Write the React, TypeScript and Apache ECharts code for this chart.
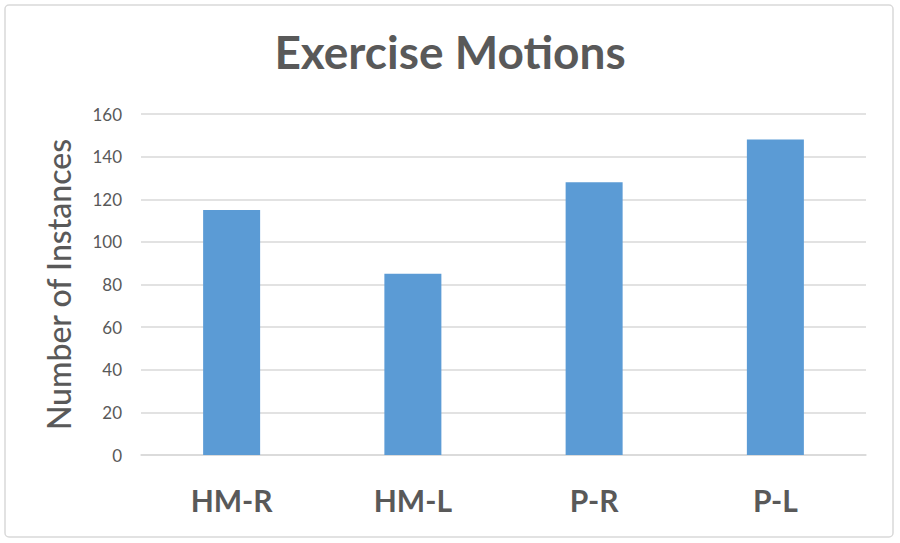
import React, { useEffect, useRef } from "react";
import * as echarts from "echarts";

const categories = ["HM-R", "HM-L", "P-R", "P-L"];
const instances = [115, 85, 128, 148];
const yTicks = { min: 0, max: 160, interval: 20 };

const TEXT = "#595959";
const FONT = "Lato, 'Open Sans', sans-serif";

export default function App() {
  const ref = useRef<HTMLDivElement>(null);

  useEffect(() => {
    if (!ref.current) return;
    const chart = echarts.init(ref.current, undefined, { renderer: "svg" });
    chart.setOption({
      animation: false,
      backgroundColor: "#ffffff",
      title: {
        text: "Exercise Motions",
        left: "center",
        top: 23,
        textStyle: { color: TEXT, fontFamily: FONT, fontSize: 46, fontWeight: 700 },
      },
      graphic: [
        {
          type: "rect",
          shape: { x: 5, y: 5, width: 888, height: 532, r: 4 },
          style: { fill: "none", stroke: "#d9d9d9", lineWidth: 1.5 },
          silent: true,
        },
      ],
      grid: { left: 141, right: 34, top: 114, bottom: 88 },
      xAxis: {
        type: "category",
        data: categories,
        axisLine: { show: true, lineStyle: { color: "#d9d9d9", width: 1.5 } },
        axisTick: { show: false },
        axisLabel: {
          color: TEXT,
          fontFamily: FONT,
          fontSize: 30,
          fontWeight: 700,
          margin: 30,
        },
      },
      yAxis: {
        type: "value",
        min: yTicks.min,
        max: yTicks.max,
        interval: yTicks.interval,
        name: "Number of Instances",
        nameLocation: "middle",
        nameGap: 67,
        nameTextStyle: { color: TEXT, fontFamily: FONT, fontSize: 32, fontWeight: 500 },
        axisLine: { show: false },
        axisTick: { show: false },
        axisLabel: { color: TEXT, fontFamily: FONT, fontSize: 17, margin: 19 },
        splitLine: { lineStyle: { color: "#d9d9d9", width: 1.5 } },
      },
      series: [
        {
          type: "bar",
          data: instances,
          barWidth: 57,
          itemStyle: { color: "#5b9bd5" },
        },
      ],
    });
    return () => chart.dispose();
  }, []);

  return (
    <div
      ref={ref}
      style={{ position: "absolute", left: 0, top: 0, width: 900, height: 543 }}
    />
  );
}
